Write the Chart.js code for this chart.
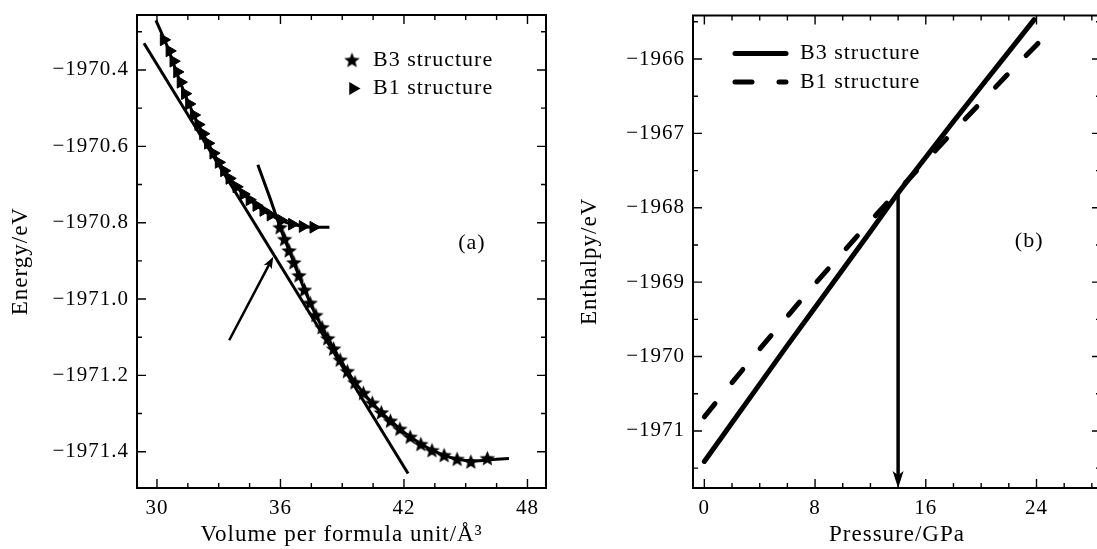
<!DOCTYPE html>
<html><head><meta charset="utf-8">
<script src="https://cdn.jsdelivr.net/npm/chart.js@4/dist/chart.umd.min.js"></script>
<style>
html,body{margin:0;padding:0;background:#fff;overflow:hidden;width:1097px;height:549px;position:relative;}
canvas{position:absolute;top:0;}
#ca{left:0;} #cb{left:560px;}
</style></head><body>
<canvas id="ca" width="560" height="549"></canvas>
<canvas id="cb" width="560" height="549"></canvas>
<script>
// ---------- Panel (a): energy vs volume ----------
const volumeTicks = [30, 36, 42, 48];
const energyTicks = [-1970.4, -1970.6, -1970.8, -1971.0, -1971.2, -1971.4];

// B3 structure (stars)
const b3StarV = [35.98, 36.2, 36.42, 36.65, 36.9, 37.17, 37.44, 37.72, 38.02, 38.3, 38.58, 38.9, 39.25, 39.62, 40.03, 40.46, 40.9, 41.34, 41.8, 42.3, 42.82, 43.36, 43.95, 44.58, 45.25, 46.05];
const b3StarE = [-1970.812, -1970.843, -1970.873, -1970.904, -1970.938, -1970.976, -1971.010, -1971.042, -1971.074, -1971.103, -1971.130, -1971.159, -1971.189, -1971.218, -1971.246, -1971.272, -1971.297, -1971.319, -1971.340, -1971.361, -1971.380, -1971.396, -1971.409, -1971.419, -1971.426, -1971.417];
// B3 fitted curve
const b3FitV = [34.9, 35.5, 36, 36.5, 37, 37.5, 38, 38.5, 39, 39.5, 40, 40.5, 41, 41.5, 42, 42.5, 43, 43.5, 44, 44.5, 45, 45.5, 46, 46.5, 47.1];
const b3FitE = [-1970.648, -1970.737, -1970.815, -1970.884, -1970.953, -1971.017, -1971.072, -1971.122, -1971.168, -1971.209, -1971.244, -1971.275, -1971.302, -1971.326, -1971.349, -1971.368, -1971.385, -1971.399, -1971.410, -1971.418, -1971.423, -1971.424, -1971.422, -1971.420, -1971.418];

// B1 structure (triangles)
const b1TriV = [30.33, 30.61, 30.8, 30.98, 31.15, 31.36, 31.56, 31.79, 32.01, 32.24, 32.48, 32.74, 33.0, 33.26, 33.52, 33.86, 34.2, 34.5, 34.83, 35.17, 35.52, 36.03, 36.56, 37.08, 37.6];
const b1TriE = [-1970.321, -1970.350, -1970.377, -1970.405, -1970.432, -1970.462, -1970.489, -1970.518, -1970.543, -1970.567, -1970.592, -1970.618, -1970.642, -1970.664, -1970.684, -1970.706, -1970.725, -1970.740, -1970.755, -1970.768, -1970.780, -1970.794, -1970.804, -1970.810, -1970.812];
// B1 fitted curve
const b1FitV = [29.95, 30.5, 31, 31.5, 32, 32.5, 33, 33.5, 34, 34.5, 35, 35.5, 36, 36.5, 37, 37.5, 38, 38.38];
const b1FitE = [-1970.27, -1970.338, -1970.413, -1970.482, -1970.542, -1970.594, -1970.642, -1970.683, -1970.714, -1970.740, -1970.762, -1970.780, -1970.793, -1970.803, -1970.809, -1970.812, -1970.812, -1970.812];

// common tangent line and arrow pointing to it
const tangentV = [29.37, 42.2];
const tangentE = [-1970.33, -1971.457];
const arrowAV = [33.51, 35.65];
const arrowAE = [-1971.108, -1970.889];
const labelAPos = [45.3, -1970.855];

// ---------- Panel (b): enthalpy vs pressure ----------
const pressureTicks = [0, 8, 16, 24];
const enthalpyTicks = [-1966, -1967, -1968, -1969, -1970, -1971];
const pB3 = [0, 2, 4, 6, 8, 10, 12, 14, 16, 18, 20, 22, 23.83];
const hB3 = [-1971.41, -1970.89, -1970.37, -1969.85, -1969.34, -1968.83, -1968.32, -1967.80, -1967.32, -1966.84, -1966.37, -1965.90, -1965.47];
const pB1 = [0, 2, 4, 6, 8, 10, 12, 14, 16, 18, 20, 22, 24, 25.1];
const hB1 = [-1970.81, -1970.35, -1969.90, -1969.46, -1969.02, -1968.60, -1968.18, -1967.77, -1967.37, -1966.97, -1966.58, -1966.19, -1965.81, -1965.61];
const transitionP = [14.0, 14.0];
const transitionH = [-1967.79, -1971.767];
const labelBPos = [23.47, -1968.454];

// ---------- helpers ----------
const FONT = "'Liberation Serif', 'Times New Roman', serif";
Chart.defaults.font.family = FONT;
Chart.defaults.font.size = 21;
Chart.defaults.color = '#000';
const pts = (xs, ys) => xs.map((x, i) => ({x: x, y: ys[i]}));
const fmt = d => v => (v < 0 ? '\u2212' : '') + Math.abs(v).toFixed(d);

function makeStar(size) {
  const c = document.createElement('canvas');
  c.width = size; c.height = size;
  const g = c.getContext('2d');
  const cx = size / 2, cy = size / 2, R = size / 2 - 0.3, r = R * 0.44;
  g.beginPath();
  for (let i = 0; i < 10; i++) {
    const rad = (i % 2 === 0) ? R : r;
    const a = -Math.PI / 2 + i * Math.PI / 5;
    const x = cx + rad * Math.cos(a), y = cy + rad * Math.sin(a) + 0.7;
    if (i === 0) g.moveTo(x, y); else g.lineTo(x, y);
  }
  g.closePath(); g.fillStyle = '#000'; g.fill();
  return c;
}
const starImg = makeStar(17);

function drawTri(ctx, x, y, r) {
  ctx.beginPath();
  ctx.moveTo(x + r, y);
  ctx.lineTo(x - r / 2, y - r * 0.866);
  ctx.lineTo(x - r / 2, y + r * 0.866);
  ctx.closePath(); ctx.fill();
}

function drawArrow(ctx, x1, y1, x2, y2, lw, L, W) {
  const ang = Math.atan2(y2 - y1, x2 - x1);
  const ux = Math.cos(ang), uy = Math.sin(ang), nx = -uy, ny = ux;
  ctx.lineWidth = lw; ctx.lineCap = 'butt';
  ctx.beginPath(); ctx.moveTo(x1, y1); ctx.lineTo(x2 - ux * L * 0.7, y2 - uy * L * 0.7); ctx.stroke();
  ctx.beginPath();
  ctx.moveTo(x2, y2);
  ctx.lineTo(x2 - ux * L + nx * W, y2 - uy * L + ny * W);
  ctx.lineTo(x2 - ux * L * 0.75, y2 - uy * L * 0.75);
  ctx.lineTo(x2 - ux * L - nx * W, y2 - uy * L - ny * W);
  ctx.closePath(); ctx.fill();
}

const spacing = {
  id: 'spacing',
  beforeDraw(chart) { chart.ctx.letterSpacing = '1px'; }
};

const frameTicks = {
  id: 'frameTicks',
  afterDatasetsDraw(chart, args, o) {
    const {ctx, chartArea: a} = chart;
    const xs = chart.scales.x, ys = chart.scales.y;
    const vals = (s, step) => { const out = []; const k0 = Math.ceil(s.min / step - 1e-6), k1 = Math.floor(s.max / step + 1e-6); for (let k = k0; k <= k1; k++) out.push(k * step); return out; };
    const isMajor = (v, m) => m.some(t => Math.abs(t - v) < 1e-6);
    ctx.save();
    ctx.strokeStyle = '#000'; ctx.lineWidth = 1.4;
    ctx.beginPath();
    vals(xs, o.xStep).forEach(v => {
      const p = xs.getPixelForValue(v); const L = isMajor(v, o.xMajor) ? 9 : 5;
      ctx.moveTo(p, a.bottom); ctx.lineTo(p, a.bottom - L);
      ctx.moveTo(p, a.top); ctx.lineTo(p, a.top + L);
    });
    vals(ys, o.yStep).forEach(v => {
      const p = ys.getPixelForValue(v); const L = isMajor(v, o.yMajor) ? 9 : 5;
      ctx.moveTo(a.left, p); ctx.lineTo(a.left + L, p);
      ctx.moveTo(a.right, p); ctx.lineTo(a.right - L, p);
    });
    ctx.stroke();
    ctx.lineWidth = 2;
    ctx.beginPath();
    ctx.moveTo(a.right, a.top); ctx.lineTo(a.left, a.top); ctx.lineTo(a.left, a.bottom); ctx.lineTo(a.right, a.bottom);
    if (o.drawRight) ctx.closePath();
    ctx.stroke();
    ctx.restore();
  }
};

const decorA = {
  id: 'decorA',
  afterDatasetsDraw(chart) {
    const ctx = chart.ctx, xs = chart.scales.x, ys = chart.scales.y;
    ctx.save();
    ctx.fillStyle = '#000'; ctx.strokeStyle = '#000';
    drawArrow(ctx, xs.getPixelForValue(arrowAV[0]), ys.getPixelForValue(arrowAE[0]),
      xs.getPixelForValue(arrowAV[1]), ys.getPixelForValue(arrowAE[1]), 2.5, 12, 4.5);
    // legend
    ctx.drawImage(starImg, 352 - 8.5, 60 - 8.5);
    drawTri(ctx, 353, 88.5, 7.5);
    ctx.letterSpacing = '1px';
    ctx.font = '22px ' + FONT; ctx.textBaseline = 'middle'; ctx.textAlign = 'left';
    ctx.fillText('B3 structure', 373, 60);
    ctx.fillText('B1 structure', 373, 88.5);
    ctx.font = '22px ' + FONT; ctx.textAlign = 'center';
    ctx.fillText('(a)', xs.getPixelForValue(labelAPos[0]), ys.getPixelForValue(labelAPos[1]));
    ctx.restore();
  }
};

const decorB = {
  id: 'decorB',
  afterDatasetsDraw(chart) {
    const ctx = chart.ctx, xs = chart.scales.x, ys = chart.scales.y;
    ctx.save();
    ctx.fillStyle = '#000'; ctx.strokeStyle = '#000';
    drawArrow(ctx, xs.getPixelForValue(transitionP[0]), ys.getPixelForValue(transitionH[0]),
      xs.getPixelForValue(transitionP[1]), ys.getPixelForValue(transitionH[1]), 3.5, 17, 5.5);
    // legend
    ctx.lineWidth = 5; ctx.lineCap = 'round';
    ctx.beginPath(); ctx.moveTo(175, 53.5); ctx.lineTo(226, 53.5); ctx.stroke();
    ctx.setLineDash([17, 27]);
    ctx.beginPath(); ctx.moveTo(175, 82); ctx.lineTo(226, 82); ctx.stroke();
    ctx.setLineDash([]);
    ctx.letterSpacing = '1px';
    ctx.font = '22px ' + FONT; ctx.textBaseline = 'middle'; ctx.textAlign = 'left';
    ctx.fillText('B3 structure', 240, 53.5);
    ctx.fillText('B1 structure', 240, 82);
    ctx.font = '22px ' + FONT; ctx.textAlign = 'center';
    ctx.fillText('(b)', xs.getPixelForValue(labelBPos[0]), ys.getPixelForValue(labelBPos[1]));
    ctx.restore();
  }
};

function axis(min, max, ticks, dec, title, fitKey, fitVal, titlePad) {
  return {
    type: 'linear', min: min, max: max,
    position: fitKey === 'height' ? 'bottom' : 'left',
    grid: {display: false, drawTicks: false},
    border: {display: false},
    ticks: {callback: fmt(dec), font: {size: 21}, maxRotation: 0, autoSkip: false, padding: 8},
    afterBuildTicks: s => { s.ticks = ticks.map(v => ({value: v})); },
    afterFit: s => {
      s[fitKey] = fitVal;
      s.paddingTop = 0; s.paddingBottom = 0; s.paddingLeft = 0; s.paddingRight = 0;
    },
    title: {display: true, text: title, font: {size: 23}, padding: {top: titlePad, bottom: 0}}
  };
}

// ---------- Chart (a) ----------
new Chart(document.getElementById('ca'), {
  type: 'scatter',
  data: {datasets: [
    {label: 'B3 structure', data: pts(b3StarV, b3StarE), showLine: false, pointStyle: starImg, pointRadius: 7, order: 0},
    {label: 'B1 structure', data: pts(b1TriV, b1TriE), showLine: false, pointStyle: 'triangle', rotation: 90, pointRadius: 6.8, backgroundColor: '#000', borderColor: '#000', borderWidth: 1, order: 1},
    {label: 'B3 fit', data: pts(b3FitV, b3FitE), showLine: true, pointRadius: 0, borderColor: '#000', backgroundColor: '#000', borderWidth: 3, cubicInterpolationMode: 'monotone', order: 2},
    {label: 'B1 fit', data: pts(b1FitV, b1FitE), showLine: true, pointRadius: 0, borderColor: '#000', backgroundColor: '#000', borderWidth: 3, cubicInterpolationMode: 'monotone', order: 3},
    {label: 'tangent', data: pts(tangentV, tangentE), showLine: true, pointRadius: 0, borderColor: '#000', backgroundColor: '#000', borderWidth: 3, order: 4}
  ]},
  options: {
    responsive: false, animation: false,
    layout: {padding: {left: 0, right: 14, top: 15, bottom: 0}},
    plugins: {legend: {display: false}, tooltip: {enabled: false},
      frameTicks: {xStep: 1.5, yStep: 0.1, xMajor: volumeTicks, yMajor: energyTicks, drawRight: true}},
    scales: {
      x: axis(29.03, 48.9, volumeTicks, 0, 'Volume per formula unit/\u00c5\u00b3', 'height', 61, 0),
      y: axis(-1971.495, -1970.256, energyTicks, 1, 'Energy/eV\u2002 ', 'width', 137, 7)
    }
  },
  plugins: [spacing, frameTicks, decorA]
});

// ---------- Chart (b) ----------
new Chart(document.getElementById('cb'), {
  type: 'scatter',
  data: {datasets: [
    {label: 'B3 structure', data: pts(pB3, hB3), showLine: true, pointRadius: 0, borderColor: '#000', backgroundColor: '#000', borderWidth: 5, borderCapStyle: 'round', order: 0},
    {label: 'B1 structure', data: pts(pB1, hB1), showLine: true, pointRadius: 0, borderColor: '#000', backgroundColor: '#000', borderWidth: 5, borderCapStyle: 'round', borderDash: [17, 27], order: 1}
  ]},
  options: {
    responsive: false, animation: false,
    layout: {padding: {left: 0, right: 19, top: 15.5, bottom: 0}},
    plugins: {legend: {display: false}, tooltip: {enabled: false},
      frameTicks: {xStep: 2, yStep: 0.5, xMajor: pressureTicks, yMajor: enthalpyTicks, drawRight: false}},
    scales: {
      x: axis(-0.82, 28.66, pressureTicks, 0, 'Pressure/GPa', 'height', 61, 0),
      y: axis(-1971.767, -1965.415, enthalpyTicks, 0, 'Enthalpy/eV\u2002 ', 'width', 133, 16)
    }
  },
  plugins: [spacing, frameTicks, decorB]
});
</script>
</body></html>
